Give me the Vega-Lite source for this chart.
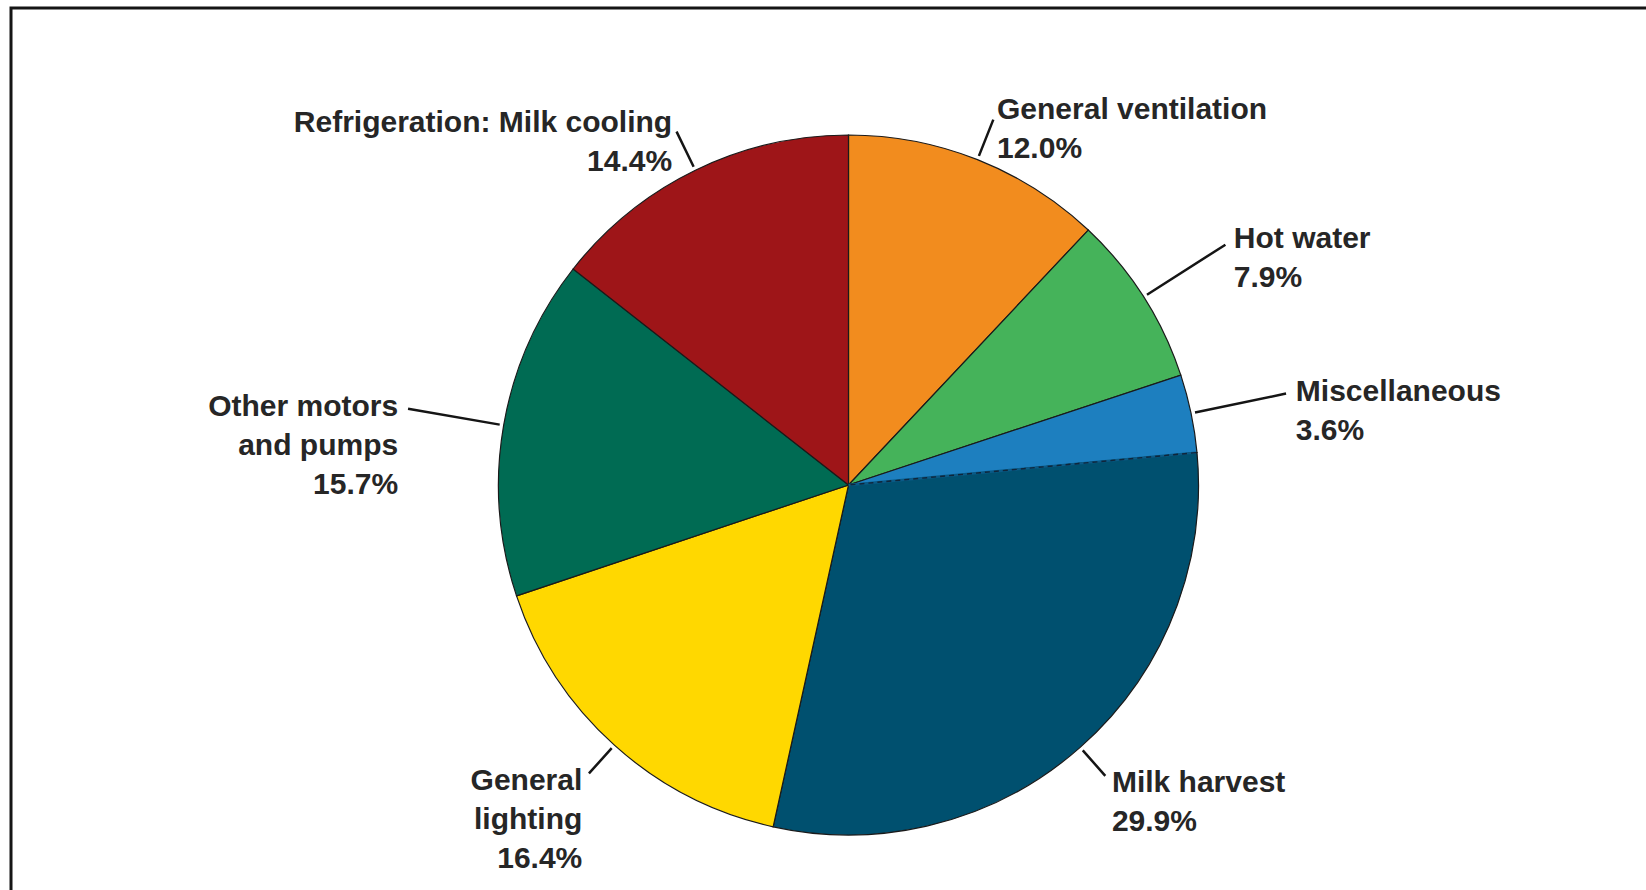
{
  "$schema": "https://vega.github.io/schema/vega-lite/v6.json",
  "width": 1646,
  "height": 890,
  "autosize": {"type": "fit", "contains": "padding"},
  "padding": {"left": 11, "top": 8, "right": -40, "bottom": -72},
  "background": "white",
  "view": {"stroke": "#151515", "strokeWidth": 3, "fill": "white"},
  "config": {
    "view": {"stroke": "#151515", "strokeWidth": 3},
    "text": {"font": "Liberation Sans"}
  },
  "data": {
    "values": [
      {"category": "General ventilation", "value": 12.0, "order": 1, "label": "General ventilation\n12.0%"},
      {"category": "Hot water", "value": 7.9, "order": 2, "label": "Hot water\n7.9%"},
      {"category": "Miscellaneous", "value": 3.6, "order": 3, "label": "Miscellaneous\n3.6%"},
      {"category": "Milk harvest", "value": 29.9, "order": 4, "label": "Milk harvest\n29.9%"},
      {"category": "General lighting", "value": 16.4, "order": 5, "label": "General\nlighting\n16.4%"},
      {"category": "Other motors and pumps", "value": 15.7, "order": 6, "label": "Other motors\nand pumps\n15.7%"},
      {"category": "Refrigeration: Milk cooling", "value": 14.4, "order": 7, "label": "Refrigeration: Milk cooling\n14.4%"}
    ]
  },
  "layer": [
    {
      "mark": {"type": "arc", "radius": 350, "stroke": "#1a1a1a", "strokeWidth": 1.2},
      "encoding": {
        "theta": {"field": "value", "type": "quantitative", "stack": true, "scale": {"domain": [0, 99.9]}},
        "order": {"field": "order", "type": "quantitative"},
        "color": {
          "field": "category",
          "type": "nominal",
          "scale": {
            "domain": ["General ventilation", "Hot water", "Miscellaneous", "Milk harvest", "General lighting", "Other motors and pumps", "Refrigeration: Milk cooling"],
            "range": ["#F28C1E", "#45B35A", "#1D7FBF", "#00506F", "#FFD800", "#006B53", "#9E1518"]
          },
          "legend": null
        }
      }
    },
    {
      "transform": [
        {"stack": "value", "groupby": [], "sort": [{"field": "order", "order": "ascending"}], "as": ["start", "end"]},
        {"filter": "datum.category == 'Milk harvest'"}
      ],
      "mark": {"type": "arc", "radius": 349, "radius2": 0, "stroke": "#0a5a86", "strokeWidth": 2.4, "fill": null},
      "encoding": {
        "theta": {"field": "start", "type": "quantitative", "stack": null, "scale": {"domain": [0, 99.9]}},
        "theta2": {"field": "start"}
      }
    },
    {
      "transform": [
        {"stack": "value", "groupby": [], "sort": [{"field": "order", "order": "ascending"}], "as": ["start", "end"]},
        {"filter": "datum.category == 'Milk harvest'"}
      ],
      "mark": {"type": "arc", "radius": 349, "radius2": 0, "stroke": "#10253a", "strokeWidth": 1.4, "strokeDash": [5, 4], "fill": null},
      "encoding": {
        "theta": {"field": "start", "type": "quantitative", "stack": null, "scale": {"domain": [0, 99.9]}},
        "theta2": {"field": "start"}
      }
    },
    {
      "transform": [
        {"stack": "value", "groupby": [], "sort": [{"field": "order", "order": "ascending"}], "as": ["start", "end"]},
        {"fold": ["start", "end"], "as": ["key", "pos"]},
        {"aggregate": [{"op": "mean", "field": "pos", "as": "mid"}], "groupby": ["category", "label", "order"]}
      ],
      "mark": {
        "type": "arc",
        "radius": {"expr": "indexof(['Hot water','Miscellaneous','Other motors and pumps'], datum.category) >= 0 ? 447 : (indexof(['Milk harvest','General lighting'], datum.category) >= 0 ? 388 : 393)"},
        "radius2": 354,
        "stroke": "#151515",
        "strokeWidth": 2.5,
        "fill": null
      },
      "encoding": {
        "theta": {"field": "mid", "type": "quantitative", "stack": null, "scale": {"domain": [0, 99.9]}},
        "theta2": {"field": "mid"}
      }
    },
    {
      "transform": [
        {"stack": "value", "groupby": [], "sort": [{"field": "order", "order": "ascending"}], "as": ["start", "end"]},
        {"fold": ["start", "end"], "as": ["key", "pos"]},
        {"aggregate": [{"op": "mean", "field": "pos", "as": "mid"}], "groupby": ["category", "label", "order"]}
      ],
      "mark": {
        "type": "text",
        "radius": {"expr": "indexof(['Hot water','Miscellaneous','Other motors and pumps'], datum.category) >= 0 ? 457 : (indexof(['Milk harvest','General lighting'], datum.category) >= 0 ? 398 : 403)"},
        "align": {"expr": "datum.mid < 49.95 ? 'left' : 'right'"},
        "baseline": "middle",
        "fontSize": 30,
        "fontWeight": "bold",
        "lineBreak": "\n",
        "lineHeight": 39,
        "color": "#262626"
      },
      "encoding": {
        "theta": {"field": "mid", "type": "quantitative", "stack": null, "scale": {"domain": [0, 99.9]}},
        "text": {"field": "label"}
      }
    }
  ]
}
